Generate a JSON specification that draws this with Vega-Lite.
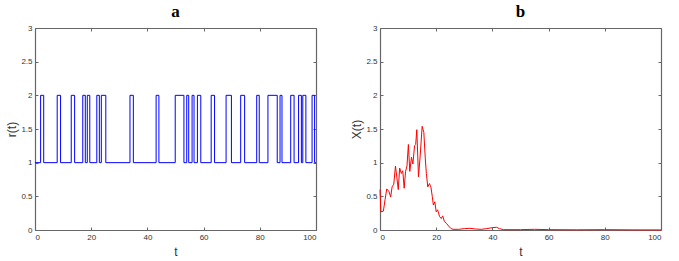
{
  "$schema": "https://vega.github.io/schema/vega-lite/v6.json",
  "padding": {"left": 5, "top": 3, "right": 5, "bottom": 5},
  "background": "white",
  "config": {
    "view": {"stroke": null},
    "axis": {
      "labelFont": "Liberation Sans", "labelFontSize": 8, "labelColor": "#333",
      "titleFont": "Liberation Sans", "titleFontSize": 12, "titleFontWeight": "normal", "titleColor": "#333",
      "domainColor": "#666", "domainWidth": 1.2, "tickColor": "#666", "tickSize": -3, "grid": false, "labelPadding": 6,
      "format": "~r"
    },
    "title": {"font": "Liberation Serif", "fontSize": 17, "fontWeight": "bold", "color": "#000", "offset": 3}
  },
  "datasets": {
    "r": [
      {"t": 0, "r": 1}, {"t": 2.0, "r": 2}, {"t": 3.1, "r": 1},
      {"t": 7.9, "r": 2}, {"t": 9.1, "r": 1},
      {"t": 12.9, "r": 2}, {"t": 14.1, "r": 1},
      {"t": 17.0, "r": 2}, {"t": 17.9, "r": 1},
      {"t": 18.6, "r": 2}, {"t": 19.5, "r": 1},
      {"t": 22.0, "r": 2}, {"t": 22.9, "r": 1},
      {"t": 23.6, "r": 2}, {"t": 25.2, "r": 1},
      {"t": 33.8, "r": 2}, {"t": 35.0, "r": 1},
      {"t": 43.1, "r": 2}, {"t": 44.1, "r": 1},
      {"t": 49.9, "r": 2}, {"t": 53.0, "r": 1},
      {"t": 54.0, "r": 2}, {"t": 54.7, "r": 1},
      {"t": 55.9, "r": 2}, {"t": 56.6, "r": 1},
      {"t": 57.8, "r": 2}, {"t": 59.0, "r": 1},
      {"t": 62.7, "r": 2}, {"t": 63.9, "r": 1},
      {"t": 68.0, "r": 2}, {"t": 69.9, "r": 1},
      {"t": 73.2, "r": 2}, {"t": 74.6, "r": 1},
      {"t": 78.9, "r": 2}, {"t": 79.8, "r": 1},
      {"t": 82.9, "r": 2}, {"t": 86.2, "r": 1},
      {"t": 87.2, "r": 2}, {"t": 87.9, "r": 1},
      {"t": 91.0, "r": 2}, {"t": 92.2, "r": 1},
      {"t": 93.8, "r": 2}, {"t": 94.8, "r": 1},
      {"t": 95.3, "r": 2}, {"t": 96.4, "r": 1},
      {"t": 98.6, "r": 2}, {"t": 99.5, "r": 1},
      {"t": 100, "r": 1}
    ],
    "x": [
      {"t": 0, "X": 0.6}, {"t": 0.3, "X": 0.27}, {"t": 1.2, "X": 0.28}, {"t": 1.8, "X": 0.45},
      {"t": 2.4, "X": 0.61}, {"t": 3.2, "X": 0.57}, {"t": 3.8, "X": 0.49}, {"t": 4.3, "X": 0.64},
      {"t": 4.9, "X": 0.68}, {"t": 5.5, "X": 0.95}, {"t": 6.0, "X": 0.78}, {"t": 6.5, "X": 0.6},
      {"t": 7.0, "X": 0.92}, {"t": 7.6, "X": 0.84}, {"t": 8.1, "X": 0.88}, {"t": 8.6, "X": 0.62},
      {"t": 9.1, "X": 0.87}, {"t": 9.6, "X": 0.95}, {"t": 10.1, "X": 1.27}, {"t": 10.6, "X": 0.87},
      {"t": 11.2, "X": 1.08}, {"t": 11.7, "X": 0.98}, {"t": 12.3, "X": 1.25}, {"t": 12.7, "X": 1.27},
      {"t": 13.1, "X": 1.49}, {"t": 13.7, "X": 0.79}, {"t": 14.3, "X": 1.1}, {"t": 15.0, "X": 1.54},
      {"t": 15.6, "X": 1.45}, {"t": 16.1, "X": 1.07}, {"t": 16.5, "X": 0.84}, {"t": 17.0, "X": 0.64},
      {"t": 17.6, "X": 0.69}, {"t": 18.1, "X": 0.64}, {"t": 18.6, "X": 0.5}, {"t": 19.0, "X": 0.37},
      {"t": 19.5, "X": 0.42}, {"t": 20.0, "X": 0.27}, {"t": 20.5, "X": 0.3}, {"t": 21.2, "X": 0.2},
      {"t": 21.8, "X": 0.17}, {"t": 22.3, "X": 0.21}, {"t": 22.9, "X": 0.13}, {"t": 23.6, "X": 0.1},
      {"t": 24.4, "X": 0.06}, {"t": 25.3, "X": 0.02}, {"t": 26, "X": 0.01}, {"t": 28, "X": 0.01},
      {"t": 30, "X": 0.02}, {"t": 32, "X": 0.025}, {"t": 34, "X": 0.015}, {"t": 36, "X": 0.01},
      {"t": 38, "X": 0.02}, {"t": 40, "X": 0.035}, {"t": 41.5, "X": 0.04}, {"t": 42.5, "X": 0.02},
      {"t": 44, "X": 0.005}, {"t": 50, "X": 0.005}, {"t": 55, "X": 0.01}, {"t": 60, "X": 0.005},
      {"t": 70, "X": 0.003}, {"t": 80, "X": 0.005}, {"t": 90, "X": 0.002}, {"t": 100, "X": 0.001}
    ]
  },
  "spacing": 31,
  "hconcat": [
    {
      "title": "a",
      "width": 281, "height": 202,
      "data": {"name": "r"},
      "layer": [
        {
          "mark": {"type": "line", "interpolate": "step-after", "color": "#0000ff", "strokeWidth": 1},
          "encoding": {
            "x": {"field": "t", "type": "quantitative", "scale": {"domain": [0, 100], "nice": false},
                  "axis": {"values": [0, 20, 40, 60, 80, 100], "title": "t", "titlePadding": 5}},
            "y": {"field": "r", "type": "quantitative", "scale": {"domain": [0, 3], "nice": false},
                  "axis": {"values": [0, 0.5, 1, 1.5, 2, 2.5, 3], "title": "r(t)", "titlePadding": 2}}
          }
        },
        {
          "mark": {"type": "point", "opacity": 0},
          "encoding": {
            "x": {"field": "t", "type": "quantitative",
                  "axis": {"orient": "top", "values": [0, 20, 40, 60, 80, 100], "labels": false, "title": null}},
            "y": {"field": "r", "type": "quantitative",
                  "axis": {"orient": "right", "values": [0, 0.5, 1, 1.5, 2, 2.5, 3], "labels": false, "title": null}}
          }
        }
      ],
      "resolve": {"axis": {"x": "independent", "y": "independent"}}
    },
    {
      "title": "b",
      "width": 281, "height": 202,
      "data": {"name": "x"},
      "layer": [
        {
          "mark": {"type": "line", "color": "#ff0000", "strokeWidth": 1},
          "encoding": {
            "x": {"field": "t", "type": "quantitative", "scale": {"domain": [0, 100], "nice": false},
                  "axis": {"values": [0, 20, 40, 60, 80, 100], "title": "t", "titlePadding": 5}},
            "y": {"field": "X", "type": "quantitative", "scale": {"domain": [0, 3], "nice": false},
                  "axis": {"values": [0, 0.5, 1, 1.5, 2, 2.5, 3], "title": "X(t)", "titlePadding": 2}}
          }
        },
        {
          "mark": {"type": "point", "opacity": 0},
          "encoding": {
            "x": {"field": "t", "type": "quantitative",
                  "axis": {"orient": "top", "values": [0, 20, 40, 60, 80, 100], "labels": false, "title": null}},
            "y": {"field": "X", "type": "quantitative",
                  "axis": {"orient": "right", "values": [0, 0.5, 1, 1.5, 2, 2.5, 3], "labels": false, "title": null}}
          }
        }
      ],
      "resolve": {"axis": {"x": "independent", "y": "independent"}}
    }
  ]
}
